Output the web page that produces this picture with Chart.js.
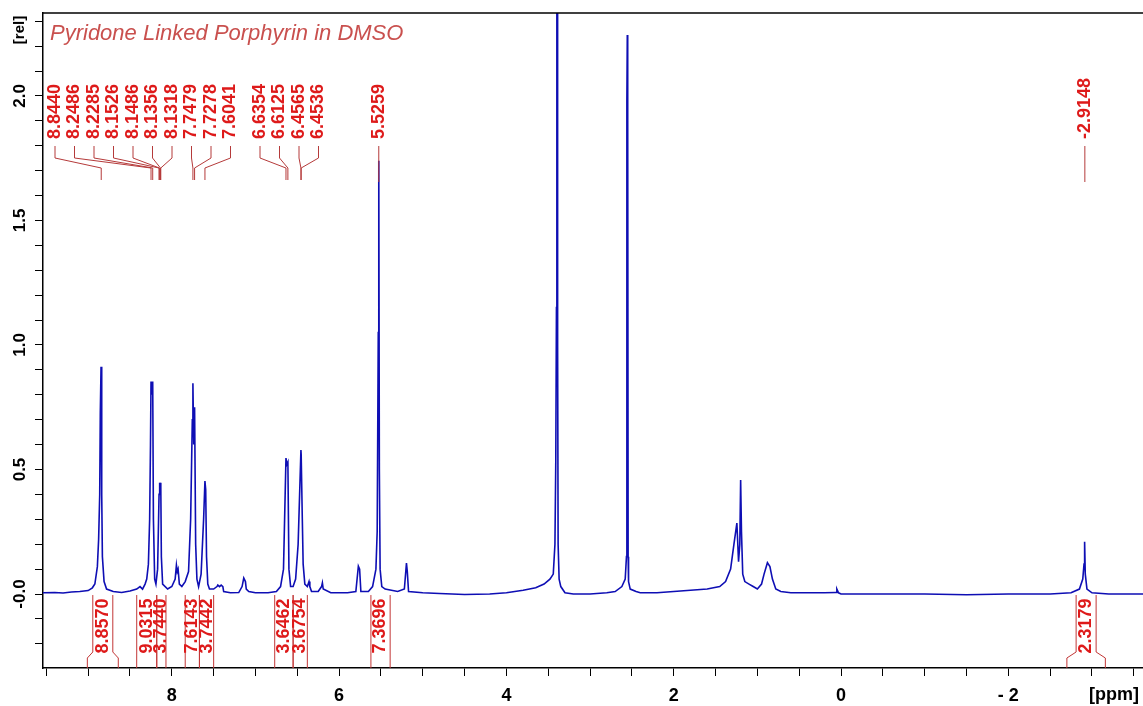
<!DOCTYPE html>
<html>
<head>
<meta charset="utf-8">
<title>Pyridone Linked Porphyrin in DMSO</title>
<script src="https://cdn.jsdelivr.net/npm/chart.js@4.4.1/dist/chart.umd.min.js"></script>
<style>
    html, body { margin: 0; padding: 0; background: #fff; overflow: hidden; }
    #wrap { width: 1143px; height: 706px; }
</style>
</head>
<body>
<div id="wrap"><canvas id="nmr" width="1143" height="706"></canvas></div>
<script>
// ─── Spectrum as [ppm, rel] ───
const aromaticRegion = [
    [9.54, 0.005], [9.40, 0.006], [9.30, 0.004], [9.20, 0.008], [9.10, 0.01], [9.00, 0.014],
    [8.95, 0.025], [8.92, 0.04], [8.89, 0.11], [8.875, 0.22], [8.862, 0.40], [8.855, 0.73],
    [8.846, 0.913], [8.838, 0.40], [8.83, 0.15], [8.81, 0.05], [8.78, 0.02], [8.70, 0.01],
    [8.60, 0.006], [8.50, 0.012], [8.42, 0.02], [8.38, 0.03], [8.35, 0.02], [8.32, 0.04],
    [8.30, 0.06], [8.28, 0.12], [8.265, 0.30], [8.255, 0.60], [8.2486, 0.853], [8.2385, 0.80],
    [8.2285, 0.853], [8.22, 0.30], [8.205, 0.06], [8.19, 0.04], [8.17, 0.10], [8.1526, 0.40],
    [8.1486, 0.447], [8.142, 0.42], [8.1356, 0.447], [8.1318, 0.43], [8.125, 0.15], [8.11, 0.04],
    [8.05, 0.02], [8.00, 0.03], [7.96, 0.06], [7.945, 0.116], [7.935, 0.09], [7.925, 0.10],
    [7.91, 0.04], [7.88, 0.03], [7.84, 0.05], [7.80, 0.09], [7.775, 0.30], [7.755, 0.70],
    [7.7479, 0.846], [7.738, 0.60], [7.7278, 0.75], [7.715, 0.20], [7.70, 0.06], [7.68, 0.03],
    [7.65, 0.08], [7.62, 0.30], [7.6041, 0.454], [7.595, 0.42], [7.585, 0.15], [7.57, 0.04],
    [7.55, 0.02], [7.50, 0.02], [7.46, 0.03], [7.45, 0.036], [7.43, 0.03], [7.41, 0.036],
    [7.39, 0.03], [7.38, 0.01], [7.30, 0.005], [7.20, 0.006], [7.16, 0.03], [7.14, 0.064],
    [7.12, 0.05], [7.11, 0.02], [7.08, 0.01], [7.00, 0.005]
];
const olefinRegion = [
    [6.85, 0.005], [6.75, 0.01], [6.70, 0.03], [6.665, 0.10], [6.6354, 0.546], [6.625, 0.52],
    [6.6125, 0.53], [6.60, 0.10], [6.58, 0.03], [6.55, 0.03], [6.52, 0.06], [6.49, 0.20],
    [6.4565, 0.578], [6.4536, 0.56], [6.44, 0.30], [6.43, 0.12], [6.41, 0.04], [6.38, 0.03],
    [6.36, 0.05], [6.35, 0.03], [6.33, 0.01], [6.25, 0.01], [6.21, 0.03], [6.20, 0.045],
    [6.19, 0.02], [6.10, 0.005], [5.90, 0.005], [5.80, 0.01], [5.77, 0.112], [5.755, 0.10],
    [5.74, 0.01], [5.65, 0.01], [5.60, 0.03], [5.56, 0.10], [5.545, 0.25], [5.532, 1.05],
    [5.5259, 1.74], [5.519, 0.50], [5.51, 0.10], [5.49, 0.03], [5.45, 0.02], [5.30, 0.01],
    [5.22, 0.02], [5.195, 0.124], [5.185, 0.09], [5.17, 0.01], [5.00, 0.005]
];
const aliphaticRegion = [
    [4.80, 0.002], [4.50, -0.002], [4.20, 0.0], [4.00, 0.005], [3.80, 0.015], [3.65, 0.025],
    [3.55, 0.04], [3.48, 0.06], [3.44, 0.08], [3.42, 0.20], [3.41, 0.53], [3.402, 1.15],
    [3.397, 2.40], [3.392, 2.40], [3.388, 1.00], [3.382, 0.20], [3.37, 0.06], [3.35, 0.03],
    [3.30, 0.005], [3.20, 0.0], [3.00, 0.0], [2.80, 0.005], [2.70, 0.01], [2.62, 0.03],
    [2.58, 0.06], [2.565, 0.15], [2.56, 1.98], [2.555, 2.245], [2.55, 1.90], [2.545, 0.15],
    [2.54, 0.05], [2.52, 0.02], [2.45, 0.01], [2.40, 0.005], [2.20, 0.005], [2.00, 0.01],
    [1.80, 0.015], [1.60, 0.02], [1.45, 0.03], [1.38, 0.05], [1.32, 0.10], [1.28, 0.20],
    [1.245, 0.285], [1.225, 0.13], [1.21, 0.20], [1.20, 0.458], [1.19, 0.25], [1.175, 0.08],
    [1.15, 0.05], [1.10, 0.04], [1.05, 0.03], [1.00, 0.02], [0.95, 0.04], [0.92, 0.08],
    [0.88, 0.126], [0.85, 0.11], [0.82, 0.06], [0.78, 0.02], [0.72, 0.01], [0.60, 0.005]
];
const upfieldRegion = [
    [0.40, 0.005], [0.20, 0.005], [0.06, 0.006], [0.05, 0.02], [0.03, 0.005], [0.00, 0.0],
    [-0.50, 0.0], [-1.00, 0.0], [-1.50, -0.003], [-2.00, 0.0], [-2.50, 0.0], [-2.75, 0.005],
    [-2.85, 0.02], [-2.89, 0.06], [-2.905, 0.12], [-2.912, 0.21], [-2.92, 0.08], [-2.94, 0.02],
    [-3.00, 0.005], [-3.20, 0.0], [-3.61, 0.0]
];

// ─── Peak picking and integrals ───
const peakLabels = ['8.8440', '8.2486', '8.2285', '8.1526', '8.1486', '8.1356', '8.1318',
    '7.7479', '7.7278', '7.6041', '6.6354', '6.6125', '6.4565', '6.4536', '5.5259', '-2.9148'];
const integralValues = ['8.8570', '9.0315', '3.7440', '7.6143', '3.7442', '3.6462', '3.6754', '7.3696', '2.3179'];
const integralFrom = [9.01, 8.42, 8.18, 7.84, 7.67, 6.77, 6.55, 5.62, -2.70];
const integralTo = [8.64, 8.18, 8.07, 7.67, 7.50, 6.55, 6.38, 5.39, -3.16];

// ─── Axis labels ───
const xTickValues = [8, 6, 4, 2, 0, -2];
const xTickLabels = ['8', '6', '4', '2', '0', '- 2'];
const yTickValues = [0, 0.5, 1.0, 1.5, 2.0];
const yTickLabels = ['-0.0', '0.5', '1.0', '1.5', '2.0'];
const titleText = 'Pyridone Linked Porphyrin in DMSO';

const FONT = "'Liberation Sans', Arial, sans-serif";
const spectrum = [...aromaticRegion, ...olefinRegion, ...aliphaticRegion, ...upfieldRegion]
    .map(([x, y]) => ({ x, y }));

// label columns for crowded multiplets: [first index, last index, left px]
const labelGroups = [[0, 9, 55], [10, 13, 260]];
const labelStep = 19.5;

function vText(ctx, text, x, y, align) {
    ctx.save();
    ctx.translate(x, y);
    ctx.rotate(-Math.PI / 2);
    ctx.textAlign = align;
    ctx.textBaseline = 'middle';
    ctx.fillText(text, 0, 0);
    ctx.restore();
}

const nmrDecor = {
    id: 'nmrDecor',
    beforeDraw(chart) {
        const ctx = chart.ctx;
        ctx.save();
        ctx.fillStyle = '#fff';
        ctx.fillRect(0, 0, chart.width, chart.height);
        ctx.restore();
    },
    afterDraw(chart) {
        const { ctx, chartArea: a } = chart;
        const xs = chart.scales.x, ys = chart.scales.y;
        ctx.save();

        // top frame
        ctx.strokeStyle = '#000';
        ctx.lineWidth = 1.5;
        ctx.beginPath();
        ctx.moveTo(a.left, a.top);
        ctx.lineTo(a.right, a.top);
        ctx.stroke();

        // y tick labels and units
        ctx.fillStyle = '#000';
        ctx.font = `bold 17px ${FONT}`;
        yTickValues.forEach((v, i) => vText(ctx, yTickLabels[i], 20, ys.getPixelForValue(v), 'center'));
        ctx.font = `bold 15px ${FONT}`;
        vText(ctx, '[rel]', 20, 30, 'center');
        ctx.font = `bold 18px ${FONT}`;
        ctx.textAlign = 'center';
        ctx.textBaseline = 'middle';
        ctx.fillText('[ppm]', 1114, 695);

        // title
        ctx.fillStyle = '#c9504e';
        ctx.font = `italic 22px ${FONT}`;
        ctx.textAlign = 'left';
        ctx.textBaseline = 'alphabetic';
        ctx.fillText(titleText, 50, 40);

        // peak labels with leader lines
        ctx.font = `bold 18px ${FONT}`;
        ctx.lineWidth = 1;
        peakLabels.forEach((lab, i) => {
            const px = xs.getPixelForValue(parseFloat(lab));
            let lx = px;
            labelGroups.forEach(([f, l, x0]) => { if (i >= f && i <= l) lx = x0 + (i - f) * labelStep; });
            ctx.strokeStyle = '#b53a3a';
            ctx.beginPath();
            if (Math.abs(lx - px) < 0.5) {
                ctx.moveTo(px, 146);
                ctx.lineTo(px, 182);
            } else {
                ctx.moveTo(lx, 146);
                ctx.lineTo(lx, 158);
                ctx.lineTo(px, 168);
                ctx.lineTo(px, 180);
            }
            ctx.stroke();
            ctx.fillStyle = '#de1a1a';
            vText(ctx, lab, lx, 139, 'left');
        });

        // integral brackets
        const base = ys.getPixelForValue(0);
        integralValues.forEach((val, i) => {
            const xa = xs.getPixelForValue(integralFrom[i]);
            const xb = xs.getPixelForValue(integralTo[i]);
            const cx = (xa + xb) / 2;
            const hw = Math.min(10, (xb - xa) / 2);
            ctx.strokeStyle = '#c23636';
            ctx.beginPath();
            ctx.moveTo(xa, a.bottom);
            ctx.lineTo(xa, 658);
            ctx.lineTo(cx - hw, 652);
            ctx.lineTo(cx - hw, base + 1);
            ctx.moveTo(xb, a.bottom);
            ctx.lineTo(xb, 658);
            ctx.lineTo(cx + hw, 652);
            ctx.lineTo(cx + hw, base + 1);
            ctx.stroke();
            ctx.fillStyle = '#de1a1a';
            vText(ctx, val, cx, 626, 'center');
        });
        ctx.restore();
    }
};

new Chart(document.getElementById('nmr'), {
    type: 'line',
    data: {
        datasets: [{
            data: spectrum,
            borderColor: '#0e0eb4',
            borderWidth: 1.6,
            pointRadius: 0,
            tension: 0,
            fill: false
        }]
    },
    options: {
        responsive: false,
        animation: false,
        devicePixelRatio: 1,
        layout: { padding: { top: 13, right: 0, left: 0, bottom: 0 } },
        plugins: { legend: { display: false }, tooltip: { enabled: false } },
        scales: {
            x: {
                type: 'linear',
                reverse: true,
                min: -3.61,
                max: 9.54,
                afterFit: s => { s.height = 38; },
                grid: { drawOnChartArea: false, drawTicks: true, tickLength: 8, color: '#000', lineWidth: 1 },
                border: { display: true, color: '#000', width: 1.5 },
                ticks: {
                    stepSize: 0.5,
                    includeBounds: false,
                    autoSkip: false,
                    maxRotation: 0,
                    minRotation: 0,
                    padding: 9,
                    color: '#000',
                    font: { family: FONT, size: 18, weight: 'bold' },
                    callback: v => {
                        const k = xTickValues.findIndex(t => Math.abs(t - v) < 1e-6);
                        return k >= 0 ? xTickLabels[k] : '';
                    }
                }
            },
            y: {
                type: 'linear',
                min: -0.297,
                max: 2.333,
                afterFit: s => { s.width = 43; },
                grid: { drawOnChartArea: false, drawTicks: true, tickLength: 8, color: '#000', lineWidth: 1 },
                border: { display: true, color: '#000', width: 1.5 },
                ticks: { display: false, stepSize: 0.1, includeBounds: false, autoSkip: false, maxTicksLimit: 100 }
            }
        }
    },
    plugins: [nmrDecor]
});
</script>
</body>
</html>
